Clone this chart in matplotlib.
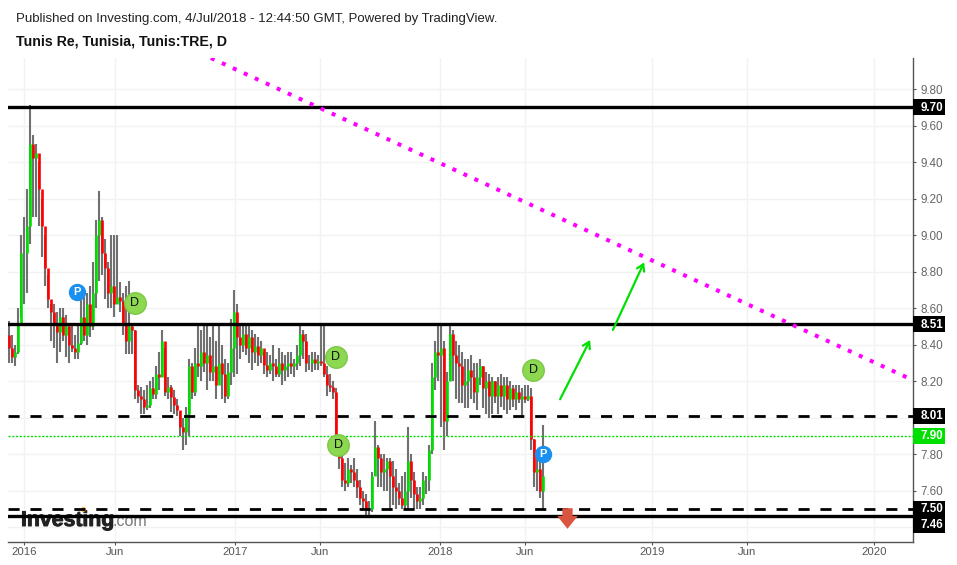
import matplotlib
matplotlib.use("Agg")
import matplotlib.pyplot as plt
import matplotlib.patheffects as pe
from matplotlib.patches import Rectangle
from matplotlib.transforms import blended_transform_factory

plt.rcParams["font.family"] = ["Liberation Sans", "DejaVu Sans"]

W, H = 957, 565

# one bar = one session sample on the time scale
highs = [8.53, 8.45, 8.40, 8.60, 9.00, 9.10, 9.25, 9.71, 9.55, 9.50, 9.40, 9.20, 9.00, 8.78,
         8.62, 8.62, 8.58, 8.60, 8.60, 8.56, 8.52, 8.50, 8.45, 8.52, 8.66, 8.66, 8.68, 8.72, 8.85, 9.08, 9.24,
         9.10, 8.98, 8.85, 9.00, 9.00, 9.00, 8.74, 8.68, 8.72, 8.75, 8.52, 8.48, 8.18, 8.17, 8.15, 8.18, 8.20,
         8.22, 8.28, 8.36, 8.48, 8.38, 8.22, 8.18, 8.15, 8.10, 8.03, 8.00, 8.06, 8.32, 8.30, 8.38, 8.50, 8.48,
         8.50, 8.50, 8.44, 8.50, 8.42, 8.50, 8.40, 8.32, 8.30, 8.54, 8.70, 8.62, 8.50, 8.50, 8.50, 8.50, 8.48,
         8.46, 8.44, 8.42, 8.36, 8.36, 8.34, 8.40, 8.32, 8.38, 8.36, 8.34, 8.36, 8.36, 8.32, 8.40, 8.50, 8.48,
         8.46, 8.34, 8.36, 8.36, 8.34, 8.50, 8.50, 8.28, 8.24, 8.20, 8.16, 7.90, 7.82, 7.75, 7.78, 7.74, 7.78,
         7.72, 7.66, 7.60, 7.58, 7.54, 7.70, 7.98, 7.85, 7.80, 7.80, 7.78, 7.78, 7.76, 7.72, 7.64, 7.68, 7.70,
         7.95, 7.80, 7.70, 7.62, 7.62, 7.70, 7.68, 7.85, 8.30, 8.42, 8.50, 8.51, 8.42, 8.25, 8.50, 8.48, 8.42,
         8.40, 8.36, 8.32, 8.32, 8.34, 8.30, 8.30, 8.32, 8.28, 8.25, 8.24, 8.22, 8.20, 8.22, 8.24, 8.22, 8.22,
         8.20, 8.18, 8.18, 8.18, 8.16, 8.18, 8.18, 8.16, 7.88, 7.80, 7.76, 7.96]
lows = [8.30, 8.30, 8.28, 8.35, 8.55, 8.62, 8.68, 8.95, 9.10, 9.10, 9.05, 8.88, 8.72, 8.60,
        8.42, 8.38, 8.30, 8.36, 8.42, 8.33, 8.30, 8.36, 8.32, 8.32, 8.40, 8.42, 8.40, 8.44, 8.48, 8.60, 8.75,
        8.78, 8.65, 8.60, 8.60, 8.55, 8.62, 8.58, 8.45, 8.35, 8.35, 8.35, 8.10, 8.08, 8.02, 8.02, 8.04, 8.05,
        8.10, 8.10, 8.15, 8.22, 8.12, 8.10, 8.03, 8.02, 8.01, 7.90, 7.82, 7.85, 7.90, 8.10, 8.12, 8.22, 8.20,
        8.25, 8.15, 8.20, 8.20, 8.10, 8.20, 8.10, 8.08, 8.10, 8.18, 8.22, 8.24, 8.32, 8.36, 8.34, 8.30, 8.26,
        8.30, 8.28, 8.30, 8.24, 8.22, 8.24, 8.20, 8.22, 8.22, 8.18, 8.20, 8.22, 8.24, 8.22, 8.26, 8.28, 8.32,
        8.25, 8.26, 8.25, 8.26, 8.26, 8.28, 8.22, 8.12, 8.14, 8.10, 7.82, 7.72, 7.62, 7.60, 7.62, 7.64, 7.62,
        7.56, 7.52, 7.50, 7.46, 7.46, 7.48, 7.68, 7.62, 7.62, 7.60, 7.60, 7.50, 7.52, 7.50, 7.52, 7.50, 7.50,
        7.50, 7.56, 7.50, 7.50, 7.50, 7.52, 7.58, 7.60, 7.80, 8.15, 8.20, 7.95, 7.82, 7.90, 8.20, 8.20, 8.10,
        8.08, 8.08, 8.05, 8.05, 8.10, 8.08, 8.04, 8.18, 8.05, 8.02, 8.00, 8.02, 8.08, 8.02, 8.06, 8.04, 8.02,
        8.04, 8.06, 8.04, 8.08, 8.00, 8.08, 8.09, 7.82, 7.62, 7.60, 7.56, 7.50]
closes = [8.38, 8.33, 8.36, 8.52, 8.90, 8.90, 9.05, 9.50, 9.42, 9.45, 9.25, 9.05, 8.82, 8.65,
          8.58, 8.52, 8.47, 8.55, 8.45, 8.50, 8.40, 8.38, 8.36, 8.41, 8.55, 8.45, 8.62, 8.50, 8.68, 9.00, 9.08,
          8.90, 8.82, 8.68, 8.72, 8.62, 8.66, 8.64, 8.52, 8.42, 8.50, 8.48, 8.15, 8.12, 8.10, 8.06, 8.07, 8.16,
          8.13, 8.24, 8.22, 8.42, 8.14, 8.17, 8.11, 8.07, 8.04, 7.95, 7.92, 8.02, 8.28, 8.14, 8.30, 8.28, 8.36,
          8.30, 8.34, 8.25, 8.28, 8.18, 8.30, 8.24, 8.12, 8.25, 8.38, 8.58, 8.44, 8.40, 8.46, 8.38, 8.44, 8.36,
          8.39, 8.34, 8.38, 8.29, 8.26, 8.30, 8.28, 8.24, 8.30, 8.26, 8.28, 8.30, 8.28, 8.30, 8.34, 8.46, 8.42,
          8.30, 8.30, 8.32, 8.30, 8.31, 8.30, 8.24, 8.18, 8.17, 8.14, 7.86, 7.78, 7.66, 7.64, 7.72, 7.70, 7.66,
          7.62, 7.56, 7.54, 7.50, 7.50, 7.68, 7.84, 7.78, 7.70, 7.72, 7.76, 7.68, 7.62, 7.60, 7.56, 7.52, 7.60,
          7.76, 7.66, 7.58, 7.54, 7.56, 7.66, 7.66, 7.82, 8.22, 8.36, 8.34, 8.38, 7.98, 8.20, 8.46, 8.34, 8.30,
          8.28, 8.18, 8.20, 8.26, 8.22, 8.14, 8.22, 8.28, 8.16, 8.20, 8.12, 8.20, 8.12, 8.18, 8.12, 8.18, 8.10,
          8.16, 8.10, 8.14, 8.10, 8.12, 8.10, 8.12, 7.88, 7.70, 7.72, 7.60, 7.68]
opens = [8.45] + closes[:-1]
sessions = list(range(len(closes)))

price_ticks = [7.40, 7.60, 7.80, 8.00, 8.20, 8.40, 8.60, 8.80, 9.00, 9.20, 9.40, 9.60, 9.80]
covered_ticks = [7.40, 8.00]  # sit behind the price tags
date_ticks = [5.0, 35.3, 75.3, 103.7, 143.7, 172.0, 214.3, 246.0, 288.3]
date_labels = ["2016", "Jun", "2017", "Jun", "2018", "Jun", "2019", "Jun", "2020"]

solid_levels = [9.70, 8.51, 7.46]
dashed_levels = [8.01, 7.50]
last_price = 7.90

p_marks = [(22.7, 8.69), (178.0, 7.80)]
d_marks = [(42.0, 8.63), (109.0, 8.33), (109.7, 7.85), (174.7, 8.26)]
trend_x = [67.3, 301.3]
trend_y = [9.97, 8.205]
arrows = [((183.7, 8.10), (193.7, 8.425)), ((201.3, 8.48), (211.7, 8.85))]

GREEN = "#00e000"
RED = "#ff0000"
GRAY = "#707070"

fig = plt.figure(figsize=(W / 100, H / 100), dpi=100)
ax = fig.add_axes([8 / W, 1 - 542 / H, 905 / W, 484 / H])
ax.set_xlim(-0.33, 301.33)
ax.set_ylim(7.318, 9.97)

for s in ["left", "top"]:
    ax.spines[s].set_visible(False)
for s in ["right", "bottom"]:
    ax.spines[s].set_color("#555555")
    ax.spines[s].set_linewidth(1.0)

ax.yaxis.tick_right()
ax.set_yticks(price_ticks)
ax.set_yticklabels(["" if p in covered_ticks else "%.2f" % p for p in price_ticks])
ax.set_xticks(date_ticks)
ax.set_xticklabels(date_labels)
ax.tick_params(axis="y", length=2.5, width=0.8, color="#555555", labelcolor="#666666", labelsize=8.4, pad=2.6)
ax.tick_params(axis="x", length=2.5, width=0.8, color="#555555", labelcolor="#555555", labelsize=8.2, pad=0.8)
ax.grid(True, color="#f2f2f2", linewidth=1.0)
ax.set_axisbelow(True)

# watermark sits under the price levels
wm = fig.transFigure
fig_x = lambda px: px / W
fig_y = lambda py: 1 - py / H
ax.text(fig_x(21), fig_y(526), "Investing", transform=wm, fontsize=15.3, fontweight="bold",
        color="#222222", zorder=1.5, clip_on=False,
        path_effects=[pe.withStroke(linewidth=0.7, foreground="#222222")])
ax.text(fig_x(112), fig_y(526), ".com", transform=wm, fontsize=11.5, color="#777777",
        zorder=1.5, clip_on=False)
ax.plot([fig_x(83)], [fig_y(509)], "o", ms=2.5, color="#f5a623", transform=wm, zorder=1.6, clip_on=False)

ax.vlines(sessions, lows, highs, color=GRAY, linewidth=1.5, zorder=2)
body_colors = [GREEN if c >= o else RED for o, c in zip(opens, closes)]
ax.vlines(sessions, opens, closes, color=body_colors, linewidth=1.9, zorder=3)

for level in solid_levels:
    ax.axhline(level, color="black", linewidth=2.4, zorder=4)
for level in dashed_levels:
    ax.axhline(level, color="black", linewidth=2.0, dashes=(4, 3.9), zorder=4)
ax.axhline(last_price, color=GREEN, linewidth=1.0, linestyle=(0, (1.5, 1.2)), zorder=4)

ax.plot(trend_x, trend_y, color="#ff00ff", linewidth=2.9, linestyle=(0, (1, 2)), zorder=5)

for start, end in arrows:
    ax.annotate("", xy=end, xytext=start, zorder=5,
                arrowprops=dict(arrowstyle="->,head_length=0.45,head_width=0.28", color=GREEN, lw=1.6,
                                shrinkA=0, shrinkB=0))

for x, y in d_marks:
    ax.plot([x], [y], "o", ms=15.5, mfc="#8cd850", mec="#7cc845", mew=1, zorder=6)
    ax.text(x, y, "D", ha="center", va="center", fontsize=9, color="#111111", zorder=7)
for x, y in p_marks:
    ax.plot([x], [y], "o", ms=11.5, mfc="#1a90f0", mec="#1a90f0", zorder=6)
    ax.text(x, y, "P", ha="center", va="center", fontsize=8, fontweight="bold", color="white", zorder=7)

down_arrow = [(-0.5, 1), (0.5, 1), (0.5, 0.25), (1, 0.25), (0, -1), (-1, 0.25), (-0.5, 0.25)]
ax.scatter([186.0], [7.45], marker=down_arrow, s=220, color="#d9553f", zorder=6, linewidths=0)

# price tags over the right axis
tags = [(9.70, 9.70, "black"), (8.51, 8.51, "black"), (8.01, 8.01, "black"),
        (7.90, 7.90, GREEN), (7.50, 7.50, "black"), (7.46, 7.411, "black")]
trans = blended_transform_factory(ax.transAxes, ax.transData)
for price, tag_y, color in tags:
    ax.add_patch(Rectangle((1.0, tag_y - 0.044), 0.0354, 0.088, transform=trans, color=color,
                           clip_on=False, zorder=8, linewidth=0))
    ax.text(1.0088, tag_y - 0.002, "%.2f" % price, transform=trans, color="white", fontsize=8.4,
            fontweight="bold", va="center", ha="left", clip_on=False, zorder=9)

fig.text(fig_x(16), fig_y(22), "Published on Investing.com, 4/Jul/2018 - 12:44:50 GMT, Powered by TradingView.",
         fontsize=9.5, color="#222222")
fig.text(fig_x(16), fig_y(45), "Tunis Re, Tunisia, Tunis:TRE, D", fontsize=10.2, fontweight="bold", color="#111111")

fig.savefig("out.png", dpi=100)
